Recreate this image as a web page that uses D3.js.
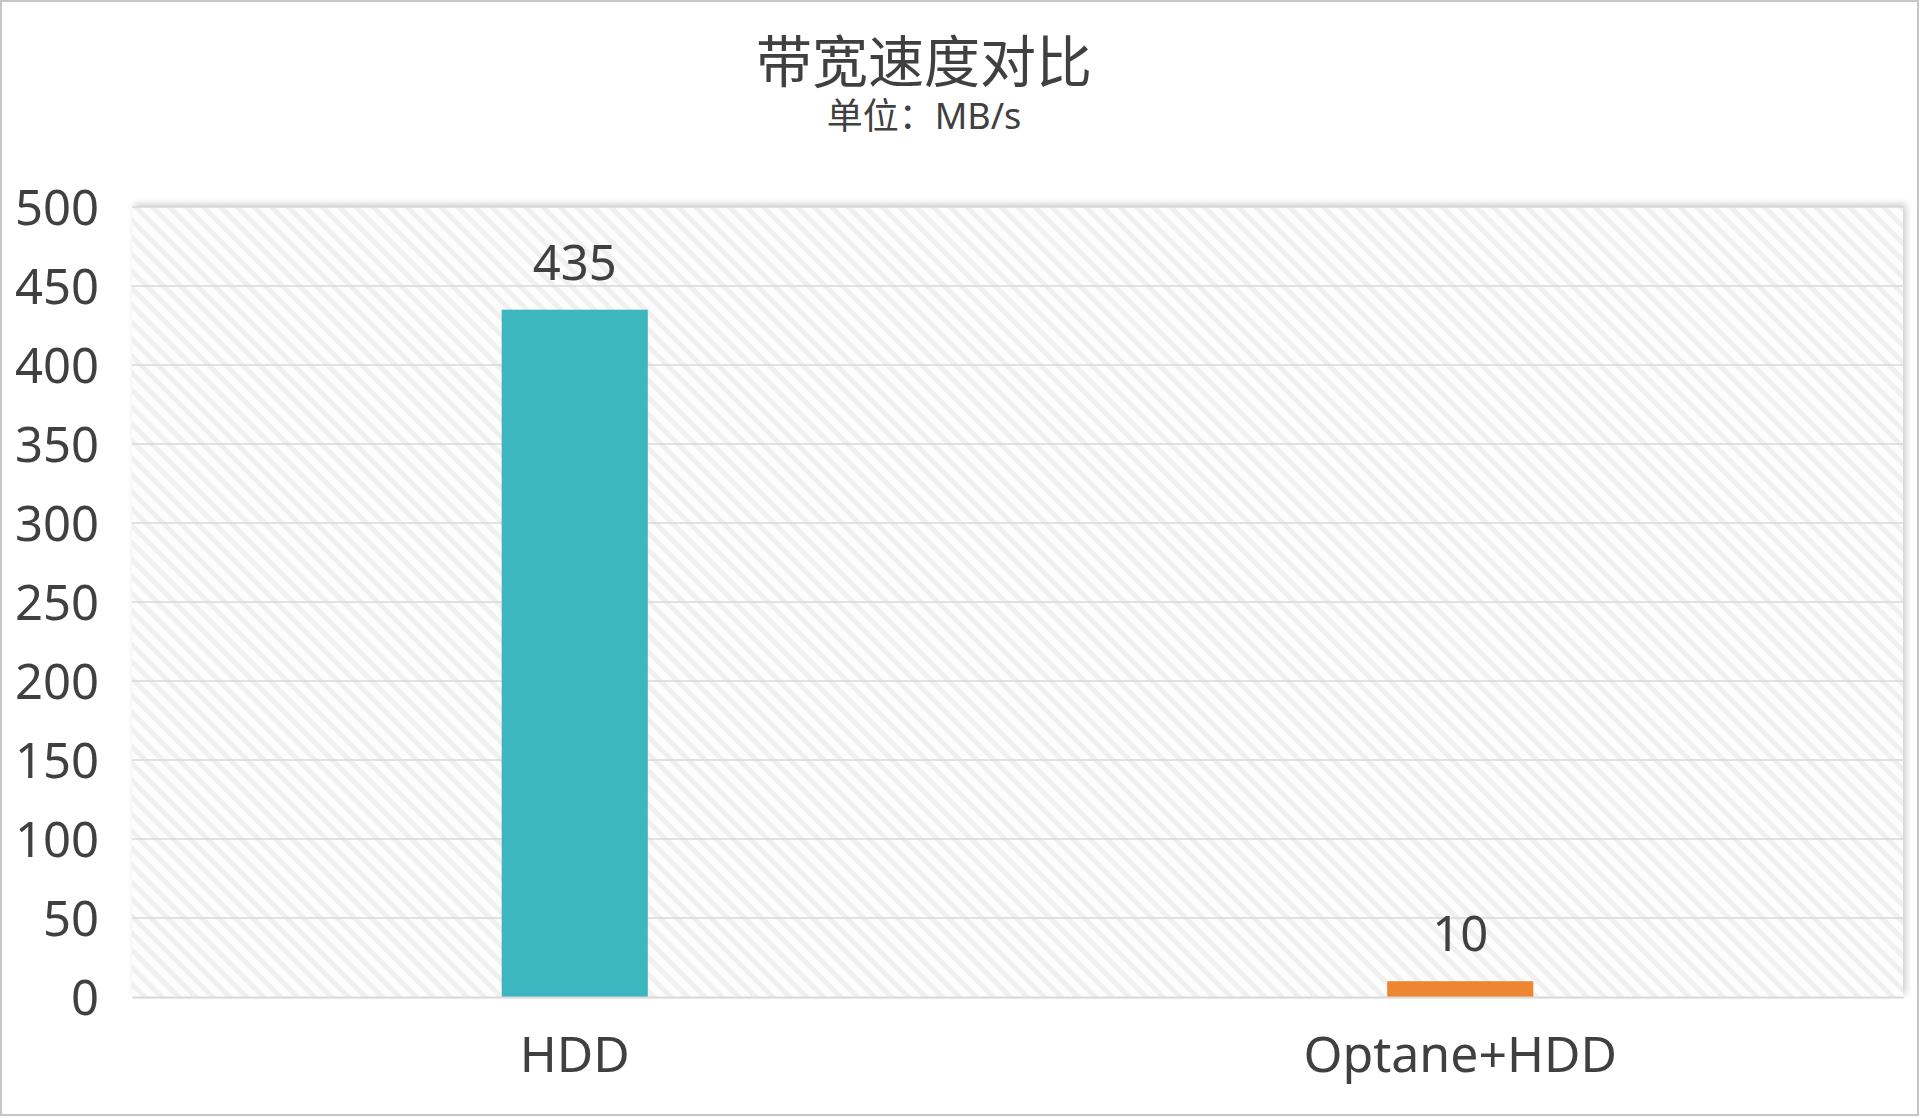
<!doctype html>
<html>
<head>
    <meta charset="utf-8">
    <script src="https://d3js.org/d3.v7.min.js"></script>
    <style>
        body { margin: 0; background: #fff; }
        text { font-family: "Noto Sans", "Noto Sans CJK SC", sans-serif; fill: #404040; }
    </style>
</head>
<body>
    <svg width="1920" height="1118" id="mainsvg"></svg>
    <script>
        const categories = ["HDD", "Optane+HDD"];
        const values = [435, 10];
        const barColors = ["#3db7bf", "#ed8632"];
        const yTicks = [0, 50, 100, 150, 200, 250, 300, 350, 400, 450, 500];
        const title = "带宽速度对比";
        const subtitle = "单位：MB/s";

        const svg = d3.select('svg');
        const width = +svg.attr('width');
        const height = +svg.attr('height');
        const margin = {top: 207, right: 17, bottom: 121, left: 132};
        const innerWidth = width - margin.left - margin.right;
        const innerHeight = height - margin.top - margin.bottom;

        const defs = svg.append('defs');
        const pat = defs.append('pattern')
            .attr('id', 'hatch')
            .attr('patternUnits', 'userSpaceOnUse')
            .attr('width', 12)
            .attr('height', 12)
            .attr('patternTransform', 'rotate(-45)');
        pat.append('rect').attr('width', 12).attr('height', 12).attr('fill', '#fdfdfd');
        pat.append('rect').attr('width', 5).attr('height', 12).attr('fill', '#f0f0f0');

        const shadow = defs.append('filter')
            .attr('id', 'shadow')
            .attr('x', '-5%').attr('y', '-5%')
            .attr('width', '110%').attr('height', '110%');
        shadow.append('feDropShadow')
            .attr('dx', 3).attr('dy', -3)
            .attr('stdDeviation', 3.5)
            .attr('flood-color', '#000')
            .attr('flood-opacity', 0.2);

        // outer frame
        svg.append('rect')
            .attr('x', 1).attr('y', 1)
            .attr('width', width - 3).attr('height', height - 4)
            .attr('fill', '#fff')
            .attr('stroke', '#c6c6c6')
            .attr('stroke-width', 2);

        svg.append('text')
            .attr('x', 924).attr('y', 82)
            .attr('text-anchor', 'middle')
            .attr('font-family', '"Noto Sans CJK SC", sans-serif')
            .attr('font-size', 56)
            .text(title);

        svg.append('text')
            .attr('x', 924).attr('y', 129)
            .attr('text-anchor', 'middle')
            .attr('font-family', '"Noto Sans CJK SC", sans-serif')
            .attr('font-size', 36)
            .text(subtitle);

        const x = d3.scaleBand()
            .domain(categories)
            .range([0, innerWidth])
            .paddingInner(0.835)
            .paddingOuter(0.4175);

        const y = d3.scaleLinear()
            .domain([0, 500])
            .range([innerHeight, 0]);

        const g = svg.append('g')
            .attr('transform', `translate(${margin.left}, ${margin.top})`);

        g.append('rect')
            .attr('width', innerWidth)
            .attr('height', innerHeight)
            .attr('fill', 'url(#hatch)')
            .attr('filter', 'url(#shadow)');

        // gridlines
        g.selectAll('.grid')
            .data(yTicks.filter(d => d > 0))
            .join('line')
            .attr('class', 'grid')
            .attr('x1', 0).attr('x2', innerWidth)
            .attr('y1', d => y(d)).attr('y2', d => y(d))
            .attr('stroke', '#d9d9d9')
            .attr('stroke-width', 1.5);

        // y axis labels
        const yAxis = d3.axisLeft(y).tickValues(yTicks).tickSize(0).tickPadding(33);
        const yg = g.append('g').call(yAxis);
        yg.select('.domain').remove();
        yg.selectAll('text')
            .attr('font-size', 49)
            .attr('fill', '#404040')
            .attr('dy', '0.35em');

        // bars
        g.selectAll('.bar')
            .data(categories)
            .join('rect')
            .attr('class', 'bar')
            .attr('x', d => x(d))
            .attr('y', (d, i) => y(values[i]))
            .attr('width', x.bandwidth())
            .attr('height', (d, i) => innerHeight - y(values[i]))
            .attr('fill', (d, i) => barColors[i]);

        // value labels
        g.selectAll('.val')
            .data(categories)
            .join('text')
            .attr('class', 'val')
            .attr('x', d => x(d) + x.bandwidth() / 2)
            .attr('y', (d, i) => y(values[i]) - 30)
            .attr('text-anchor', 'middle')
            .attr('font-size', 49)
            .text((d, i) => values[i]);

        // x axis
        const xAxis = d3.axisBottom(x).tickSize(0).tickPadding(39);
        const xg = g.append('g')
            .attr('transform', `translate(0, ${innerHeight})`)
            .call(xAxis);
        xg.select('.domain').attr('stroke', '#d9d9d9').attr('stroke-width', 2);
        xg.selectAll('text')
            .attr('font-size', 50)
            .attr('fill', '#404040');
    </script>
</body>
</html>
